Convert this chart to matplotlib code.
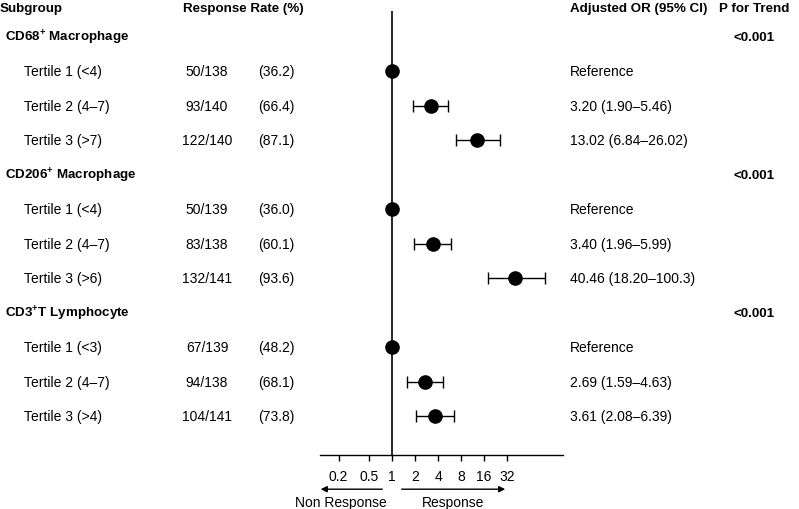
import matplotlib
matplotlib.use('Agg')
from matplotlib import pyplot as plt
from matplotlib import transforms

plt.rcParams['font.family'] = ['Liberation Sans', 'DejaVu Sans']
plt.rcParams['mathtext.fontset'] = 'custom'
plt.rcParams['mathtext.rm'] = 'Liberation Sans'
plt.rcParams['mathtext.bf'] = 'Liberation Sans:bold'

# data
groups = [r'CD68$^{\mathbf{+}}$ Macrophage', r'CD206$^{\mathbf{+}}$ Macrophage', r'CD3$^{\mathbf{+}}$T Lymphocyte']
p_trend = ['<0.001', '<0.001', '<0.001']
subgroups = [['Tertile 1 (<4)', 'Tertile 2 (4\u20137)', 'Tertile 3 (>7)'],
             ['Tertile 1 (<4)', 'Tertile 2 (4\u20137)', 'Tertile 3 (>6)'],
             ['Tertile 1 (<3)', 'Tertile 2 (4\u20137)', 'Tertile 3 (>4)']]
responders = [[50, 93, 122], [50, 83, 132], [67, 94, 104]]
totals = [[138, 140, 140], [139, 138, 141], [139, 138, 141]]
rates = [['36.2', '66.4', '87.1'], ['36.0', '60.1', '93.6'], ['48.2', '68.1', '73.8']]
odds = [[1, 3.20, 13.02], [1, 3.40, 40.46], [1, 2.69, 3.61]]
ci_lo = [[None, 1.90, 6.84], [None, 1.96, 18.20], [None, 1.59, 2.08]]
ci_hi = [[None, 5.46, 26.02], [None, 5.99, 100.3], [None, 4.63, 6.39]]
ticks = [0.2, 0.5, 1, 2, 4, 8, 16, 32]
tick_labels = ['0.2', '0.5', '1', '2', '4', '8', '16', '32']

fig = plt.figure(figsize=(7.99, 5.10), dpi=100)
W, H = 799, 510
ax = fig.add_axes([320 / W, 1 - 456 / H, (563 - 320) / W, (456 - 12) / H])
ax.set_xscale('log', base=2)
ax.set_xlim(0.114, 173)
ax.set_ylim(12.13, -0.75)

for s in ['top', 'right', 'left']:
    ax.spines[s].set_visible(False)
ax.spines['bottom'].set_linewidth(1)
ax.set_yticks([])
ax.set_xticks(ticks)
ax.set_xticklabels(tick_labels, fontsize=10)
ax.minorticks_off()
ax.tick_params(axis='x', length=4, width=1, pad=6)
ax.axvline(1, color='black', lw=1.2)

tr = transforms.blended_transform_factory(fig.transFigure, ax.transData)
fs = 10
bfs = 9.6

def fx(px):
    return px / W

ax.text(fx(0), -0.85, 'Subgroup', transform=tr, fontsize=bfs, fontweight='bold', va='center')
ax.text(fx(183), -0.85, 'Response Rate (%)', transform=tr, fontsize=bfs, fontweight='bold', va='center')
ax.text(fx(570), -0.85, 'Adjusted OR (95% CI)', transform=tr, fontsize=bfs, fontweight='bold', va='center')
ax.text(fx(719), -0.85, 'P for Trend', transform=tr, fontsize=bfs, fontweight='bold', va='center')

row = 0
for g in range(len(groups)):
    ax.text(fx(5), row, groups[g], transform=tr, fontsize=bfs, fontweight='bold', va='center')
    ax.text(fx(734), row, p_trend[g], transform=tr, fontsize=bfs, fontweight='bold', va='center')
    row += 1
    for i in range(3):
        ax.text(fx(24), row, subgroups[g][i], transform=tr, fontsize=fs, va='center')
        ax.text(fx(207), row, f'{responders[g][i]}/{totals[g][i]}', transform=tr,
                fontsize=fs, va='center', ha='center')
        ax.text(fx(258), row, f'({rates[g][i]})', transform=tr, fontsize=fs, va='center')
        o = odds[g][i]
        if ci_lo[g][i] is None:
            label = 'Reference'
            ax.plot(o, row, 'o', color='black', ms=9.5, zorder=3)
        else:
            lo, hi = ci_lo[g][i], ci_hi[g][i]
            label = f'{o:.2f} ({lo:.2f}\u2013{hi:.2f})' if hi < 100 else f'{o:.2f} ({lo:.2f}\u2013{hi:.1f})'
            ax.errorbar(o, row, xerr=[[o - lo], [hi - o]], fmt='o', color='black',
                        ms=9.5, capsize=4.5, elinewidth=1, capthick=1, zorder=3)
        ax.text(fx(570), row, label, transform=tr, fontsize=fs, va='center')
        row += 1

# direction arrows
arr_y = -0.077
ax.annotate('', xy=(0.107, arr_y), xytext=(0.81, arr_y), xycoords=('data', 'axes fraction'),
            textcoords=('data', 'axes fraction'), annotation_clip=False,
            arrowprops=dict(arrowstyle='-|>', color='black', lw=1, mutation_scale=9))
ax.annotate('', xy=(33, arr_y), xytext=(1.23, arr_y), xycoords=('data', 'axes fraction'),
            textcoords=('data', 'axes fraction'), annotation_clip=False,
            arrowprops=dict(arrowstyle='-|>', color='black', lw=1, mutation_scale=9))
ax.text(0.215, -0.106, 'Non Response', transform=ax.get_xaxis_transform(), fontsize=fs,
        ha='center', va='center')
ax.text(6.3, -0.106, 'Response', transform=ax.get_xaxis_transform(), fontsize=fs,
        ha='center', va='center')

fig.savefig('out.png', dpi=100)
